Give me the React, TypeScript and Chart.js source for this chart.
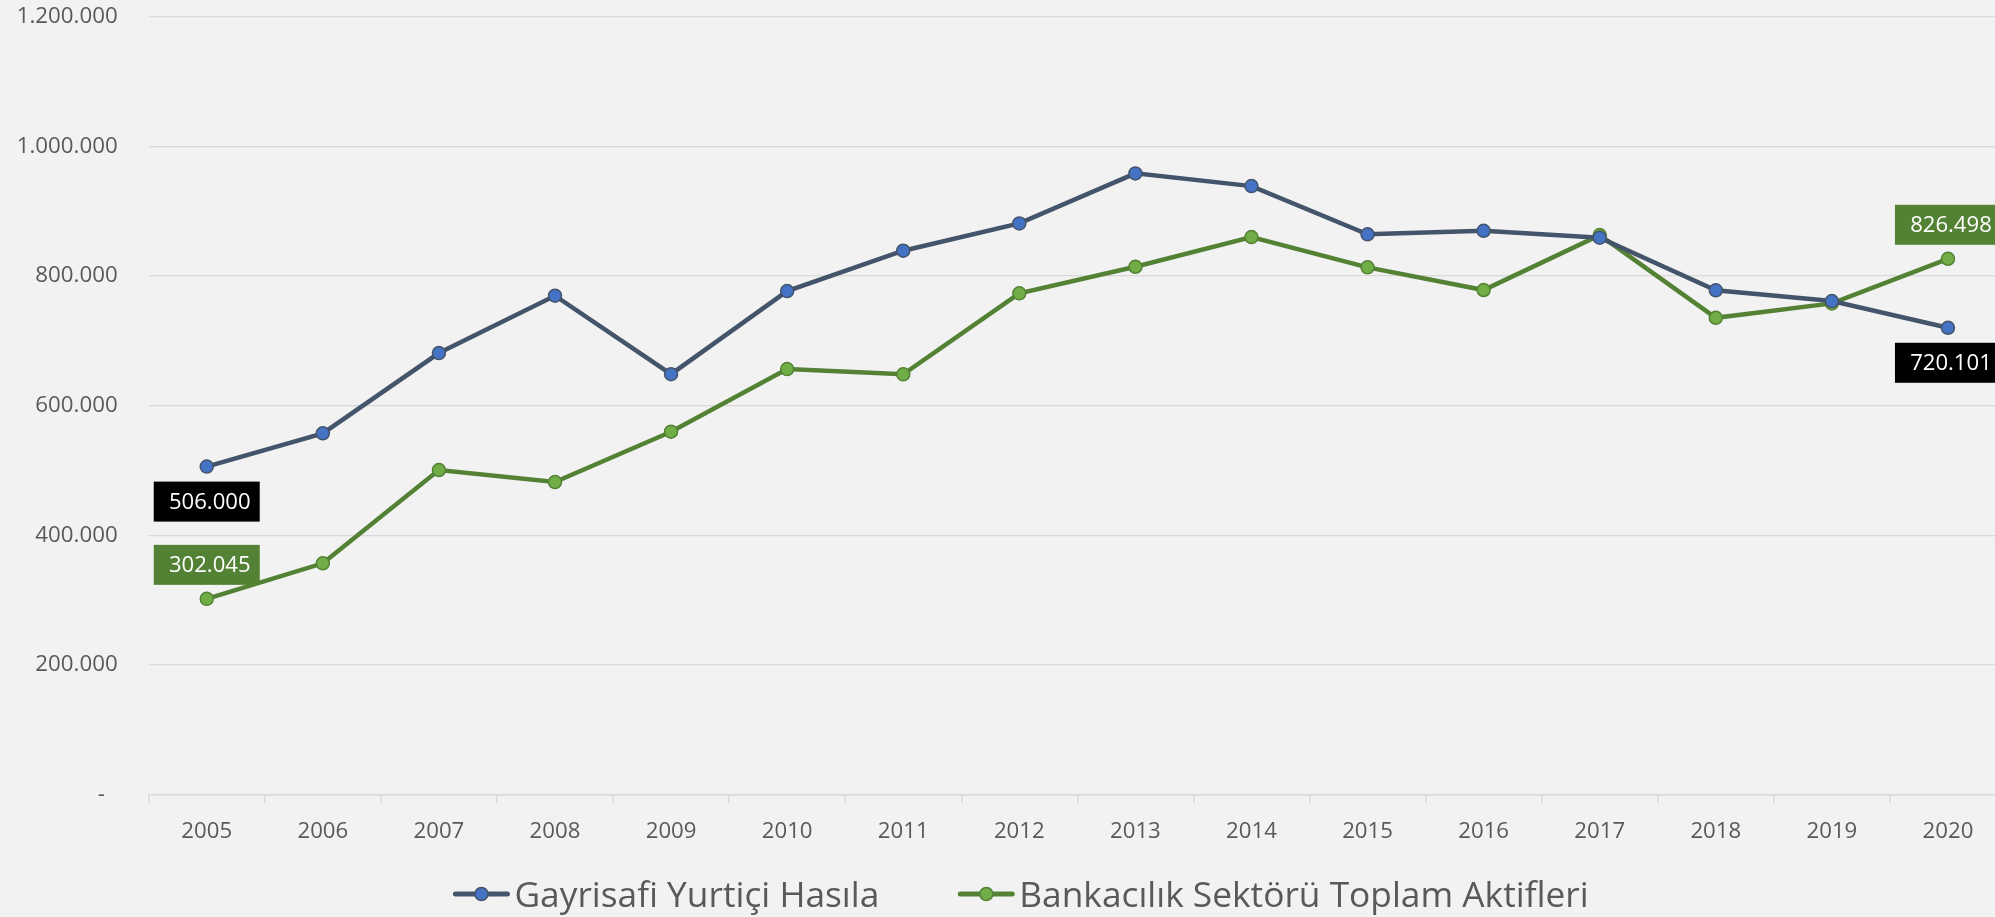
import React, { useEffect, useRef } from 'react';
import { Chart, registerables } from 'chart.js';

Chart.register(...registerables);

const years = ['2005', '2006', '2007', '2008', '2009', '2010', '2011', '2012', '2013', '2014', '2015', '2016', '2017', '2018', '2019', '2020'];
const gdpValues = [506000, 557300, 681100, 769500, 648500, 776700, 838900, 881100, 958200, 938600, 864200, 869700, 859000, 777800, 761300, 720101];
const bankValues = [302045, 356800, 500700, 482200, 559800, 656400, 648300, 773200, 814200, 860000, 813300, 778300, 863000, 735500, 757700, 826498];
const yTickLabels = ['-', '200.000', '400.000', '600.000', '800.000', '1.000.000', '1.200.000'];
const seriesNames = ['Gayrisafi Yurtiçi Hasıla', 'Bankacılık Sektörü Toplam Aktifleri'];

const CANVAS_W = 2014;
const CANVAS_H = 917;
const FAMILY = '"Open Sans", "Noto Sans", sans-serif';

type FontSizes = { tick: number; year: number; label: number; legend: number };

function pickSizes(): FontSizes {
  const ctx = document.createElement('canvas').getContext('2d')!;
  const m = (font: string, s: string) => {
    ctx.font = font;
    return ctx.measureText(s);
  };
  const sizeFor = (text: string, targetW: number, glyph: string, targetH: number) => {
    const w = m(`100px ${FAMILY}`, text).width;
    const g = m(`100px ${FAMILY}`, glyph);
    const h = g.actualBoundingBoxAscent || 71;
    const sw = (targetW / w) * 100;
    const sh = (targetH / h) * 100;
    return Math.round((0.85 * sw + 0.15 * sh) * 10) / 10;
  };
  return {
    tick: sizeFor('1.200.000', 99, '0', 18.3),
    year: sizeFor('2017', 50, '0', 18),
    label: sizeFor('506.000', 80, '0', 18.3),
    legend: sizeFor(seriesNames[0], 358, 'H', 28.5),
  };
}

export default function App() {
  const ref = useRef<HTMLCanvasElement>(null);

  useEffect(() => {
    const f = pickSizes();
    const textColor = '#595959';

    const legendPlugin = {
      id: 'customLegend',
      afterDraw(chart: any) {
        const ctx = chart.ctx as CanvasRenderingContext2D;
        const ds = chart.data.datasets;
        ctx.save();
        ctx.font = `${f.legend}px ${FAMILY}`;
        const lineLen = 56;
        const textGap = 5;
        const itemGap = 79;
        const widths = ds.map((d: any) => ctx.measureText(d.label).width);
        const total = widths.reduce((a: number, b: number) => a + b, 0) + ds.length * (lineLen + textGap) + (ds.length - 1) * itemGap;
        let x = 1021 - total / 2;
        const y = 894;
        ds.forEach((d: any, i: number) => {
          ctx.strokeStyle = d.borderColor;
          ctx.lineWidth = 5;
          ctx.lineCap = 'round';
          ctx.beginPath();
          ctx.moveTo(x + 2, y);
          ctx.lineTo(x + lineLen - 2, y);
          ctx.stroke();
          ctx.beginPath();
          ctx.arc(x + lineLen / 2, y, 6.5, 0, Math.PI * 2);
          ctx.fillStyle = d.pointBackgroundColor;
          ctx.fill();
          ctx.lineWidth = 1.5;
          ctx.strokeStyle = d.pointBorderColor;
          ctx.stroke();
          ctx.fillStyle = textColor;
          ctx.textBaseline = 'alphabetic';
          ctx.textAlign = 'left';
          ctx.fillText(d.label, x + lineLen + textGap, y + 13);
          x += lineLen + textGap + widths[i] + itemGap;
        });
        ctx.restore();
      },
    };

    const endLabelPlugin = {
      id: 'endLabels',
      afterDatasetsDraw(chart: any) {
        const ctx = chart.ctx as CanvasRenderingContext2D;
        ctx.save();
        ctx.font = `${f.label}px ${FAMILY}`;
        chart.data.datasets.forEach((d: any, i: number) => {
          const meta = chart.getDatasetMeta(i);
          const idxs = [0, d.data.length - 1];
          idxs.forEach((idx) => {
            const el = meta.data[idx];
            const txt = Number(d.data[idx]).toLocaleString('de-DE');
            const tw = ctx.measureText(txt).width;
            const bw = Math.max(106, tw + 20);
            const bh = 40;
            const top = d.labelBelow ? el.y + 15 : el.y - 14 - bh;
            ctx.fillStyle = d.labelBg;
            ctx.fillRect(el.x - bw / 2, top, bw, bh);
            ctx.fillStyle = '#ffffff';
            ctx.textAlign = 'center';
            ctx.textBaseline = 'middle';
            ctx.fillText(txt, el.x + 3, top + bh / 2 + 1);
          });
        });
        ctx.restore();
      },
    };

    const chart = new Chart(ref.current!, {
      type: 'line',
      data: {
        labels: years,
        datasets: [
          {
            label: seriesNames[0],
            data: gdpValues,
            borderColor: '#44546A',
            backgroundColor: '#4472C4',
            pointBackgroundColor: '#4472C4',
            pointBorderColor: '#44546A',
            borderWidth: 4.5,
            pointRadius: 6.5,
            pointHoverRadius: 6.5,
            pointBorderWidth: 1.5,
            tension: 0,
            labelBelow: true,
            labelBg: '#000000',
          } as any,
          {
            label: seriesNames[1],
            data: bankValues,
            borderColor: '#548235',
            backgroundColor: '#70AD47',
            pointBackgroundColor: '#70AD47',
            pointBorderColor: '#548235',
            borderWidth: 4.5,
            pointRadius: 6.5,
            pointHoverRadius: 6.5,
            pointBorderWidth: 1.5,
            tension: 0,
            labelBelow: false,
            labelBg: '#548235',
          } as any,
        ],
      },
      options: {
        responsive: false,
        animation: false,
        devicePixelRatio: 1,
        layout: { padding: { top: 16.6, left: 0, right: 0, bottom: 62.3 } },
        plugins: {
          legend: { display: false },
          tooltip: { enabled: false },
        },
        scales: {
          x: {
            offset: true,
            grid: {
              display: true,
              offset: true,
              drawOnChartArea: false,
              drawTicks: true,
              tickLength: 8,
              color: '#d9d9d9',
              lineWidth: 1.5,
            },
            border: { display: true, color: '#d9d9d9', width: 1.5 },
            ticks: {
              color: textColor,
              font: { family: FAMILY, size: f.year },
              padding: 16,
              maxRotation: 0,
              autoSkip: false,
            },
            afterFit: (scale: any) => {
              scale.height = 60;
            },
          },
          y: {
            min: 0,
            max: 1200000,
            grid: {
              display: true,
              drawTicks: false,
              color: '#d9d9d9',
              lineWidth: 1.3,
            },
            border: { display: false },
            ticks: {
              stepSize: 200000,
              color: textColor,
              font: { family: FAMILY, size: f.tick },
              padding: 31,
              callback: (_v: any, i: number) => (i === 0 ? yTickLabels[0] + '\u2007' : yTickLabels[i]),
            },
            afterFit: (scale: any) => {
              scale.width = 148.7;
              scale.paddingTop = 0;
              scale.paddingBottom = 0;
            },
          },
        },
      },
      plugins: [endLabelPlugin, legendPlugin],
    });

    return () => chart.destroy();
  }, []);

  return (
    <div
      style={{
        position: 'fixed',
        left: 0,
        top: 0,
        width: 1995,
        height: 917,
        overflow: 'hidden',
        background: '#f2f2f2',
      }}
    >
      <canvas ref={ref} width={CANVAS_W} height={CANVAS_H} style={{ display: 'block', width: CANVAS_W, height: CANVAS_H }} />
    </div>
  );
}
